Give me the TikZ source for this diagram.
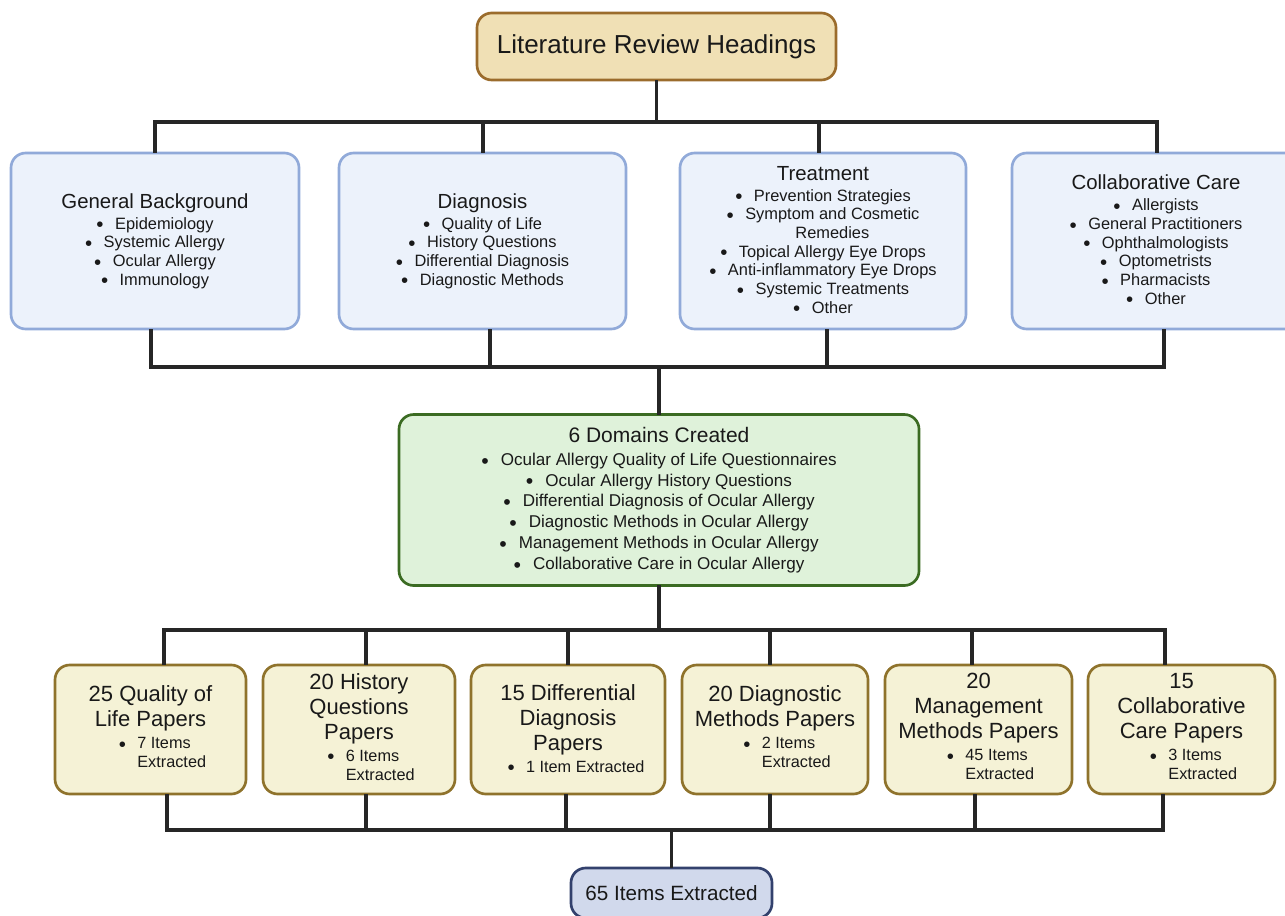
\documentclass[tikz,border=0pt]{standalone}
\usepackage{fontspec}
\setmainfont{Liberation Sans}

\definecolor{headfill}{HTML}{F0E0B5}
\definecolor{headline}{HTML}{9B6C2C}
\definecolor{topicfill}{HTML}{ECF2FB}
\definecolor{topicline}{HTML}{91AAD9}
\definecolor{domfill}{HTML}{DFF2DA}
\definecolor{domline}{HTML}{3B6B22}
\definecolor{paperfill}{HTML}{F5F2D6}
\definecolor{paperline}{HTML}{8F732C}
\definecolor{totalfill}{HTML}{D1D9EC}
\definecolor{totalline}{HTML}{33416D}
\definecolor{linecol}{HTML}{262626}

\newcommand{\dotmark}{\raisebox{-0.3ex}{\scalebox{1.25}{\textbullet}}\hspace{0.7em}}
\newcommand{\blt}[1]{\dotmark#1}
\newcommand{\hd}[1]{{\fontsize{15.3}{18}\selectfont #1}}
\newcommand{\sm}[1]{{\fontsize{12.2}{14.25}\selectfont #1}}
\newcommand{\extr}[1]{\hspace*{18pt}\sm{\begin{tabular}[t]{@{}l@{}}\blt{#1}\\\hphantom{\dotmark}Extracted\end{tabular}}}

\tikzset{
  box/.style = {draw, rounded corners=11pt, line width=2pt, align=center, inner sep=0pt, text=black!90},
  headbox/.style = {box, fill=headfill, draw=headline, font=\fontsize{19.5}{23}\selectfont},
  topic/.style = {box, fill=topicfill, draw=topicline, minimum height=132pt, font=\fontsize{12.3}{14}\selectfont},
  domainbox/.style = {box, fill=domfill, draw=domline, minimum width=390pt, minimum height=128.25pt, font=\fontsize{12.8}{15.6}\selectfont},
  paper/.style = {box, fill=paperfill, draw=paperline, minimum height=96.75pt, font=\fontsize{16.5}{18.75}\selectfont},
  totalbox/.style = {box, fill=totalfill, draw=totalline, font=\fontsize{15.5}{18}\selectfont},
  link/.style = {draw=linecol, line width=2.4pt, line cap=rect}
}

\begin{document}
\begin{tikzpicture}[x=0.75pt, y=-0.75pt]
\useasboundingbox (0,0) rectangle (1285,916);
\clip (0,0) rectangle (1285,916);

\node[headbox, minimum width=269.25pt, minimum height=50.25pt] (head) at (656.5,46.5) {Literature Review Headings};

\node[topic, minimum width=216pt] (gb) at (155,241) {\hd{General Background}\\[1.75pt]
  \blt{Epidemiology}\\ \blt{Systemic Allergy}\\ \blt{Ocular Allergy}\\ \blt{Immunology}};
\node[topic, minimum width=215.25pt] (diag) at (482.5,241) {\hd{Diagnosis}\\[1.75pt]
  \blt{Quality of Life}\\ \blt{History Questions}\\ \blt{Differential Diagnosis}\\ \blt{Diagnostic Methods}};
\node[topic, minimum width=214.5pt] (treat) at (823,241) {\hd{Treatment}\\[1.75pt]
  \blt{Prevention Strategies}\\
  \dotmark\begin{tabular}[t]{@{}c@{}}Symptom and Cosmetic\\Remedies\end{tabular}\\
  \blt{Topical Allergy Eye Drops}\\ \blt{Anti-inflammatory Eye Drops}\\ \blt{Systemic Treatments}\\ \blt{Other}};
\node[topic, minimum width=216pt] (collab) at (1156,241) {\hd{Collaborative Care}\\[1.75pt]
  \blt{Allergists}\\ \blt{General Practitioners}\\ \blt{Ophthalmologists}\\ \blt{Optometrists}\\ \blt{Pharmacists}\\ \blt{Other}};

\node[domainbox] (dom) at (659,500) {{\fontsize{15.75}{18}\selectfont 6 Domains Created}\\[1.65pt]
  \blt{Ocular Allergy Quality of Life Questionnaires}\\
  \blt{Ocular Allergy History Questions}\\
  \blt{Differential Diagnosis of Ocular Allergy}\\
  \blt{Diagnostic Methods in Ocular Allergy}\\
  \blt{Management Methods in Ocular Allergy}\\
  \blt{Collaborative Care in Ocular Allergy}};

\node[paper, minimum width=143.25pt] (p1) at (150.5,729.5) {25 Quality of\\Life Papers\\[-2.25pt]\extr{7 Items}};
\node[paper, minimum width=144pt] (p2) at (359,729.5) {20 History\\Questions\\Papers\\[-2.25pt]\extr{6 Items}};
\node[paper, minimum width=145.5pt] (p3) at (568,729.5) {15 Differential\\Diagnosis\\Papers\\[-2.25pt]\hspace*{12pt}\sm{\blt{1 Item Extracted}}};
\node[paper, minimum width=139.5pt] (p4) at (775,729.5) {20 Diagnostic\\Methods Papers\\[-2.25pt]\extr{2 Items}};
\node[paper, minimum width=140.25pt] (p5) at (978.5,729.5) {20\\Management\\Methods Papers\\[-2.25pt]\extr{45 Items}};
\node[paper, minimum width=140.25pt] (p6) at (1181.5,729.5) {15\\Collaborative\\Care Papers\\[-2.25pt]\extr{3 Items}};

\node[totalbox, minimum width=150.75pt, minimum height=37.5pt] (total) at (671.5,893) {65 Items Extracted};

% headings to topics
\foreach \x [count=\i] in {155,483,819,1157} \coordinate (t\i) at (\x,122);
\draw[link] (head.south) -- (head.south |- t1);
\draw[link] (t1) -- (t4);
\foreach \n [count=\i] in {gb,diag,treat,collab} \draw[link] (t\i) -- (t\i |- \n.north);

% topics to domains
\foreach \x [count=\i] in {151,490,827,1164} \coordinate (m\i) at (\x,367);
\foreach \n [count=\i] in {gb,diag,treat,collab} \draw[link] (m\i |- \n.south) -- (m\i);
\draw[link] (m1) -- (m4);
\draw[link] (dom.north |- m1) -- (dom.north);

% domains to papers
\foreach \x [count=\i] in {164,366,568,770,972,1165} \coordinate (d\i) at (\x,630);
\draw[link] (dom.south) -- (dom.south |- d1);
\draw[link] (d1) -- (d6);
\foreach \i in {1,...,6} \draw[link] (d\i) -- (d\i |- p\i.north);

% papers to total
\foreach \x [count=\i] in {167,366,566,770,975,1163} \coordinate (e\i) at (\x,830);
\foreach \i in {1,...,6} \draw[link] (e\i |- p\i.south) -- (e\i);
\draw[link] (e1) -- (e6);
\draw[link] (total.north |- e1) -- (total.north);
\end{tikzpicture}
\end{document}
